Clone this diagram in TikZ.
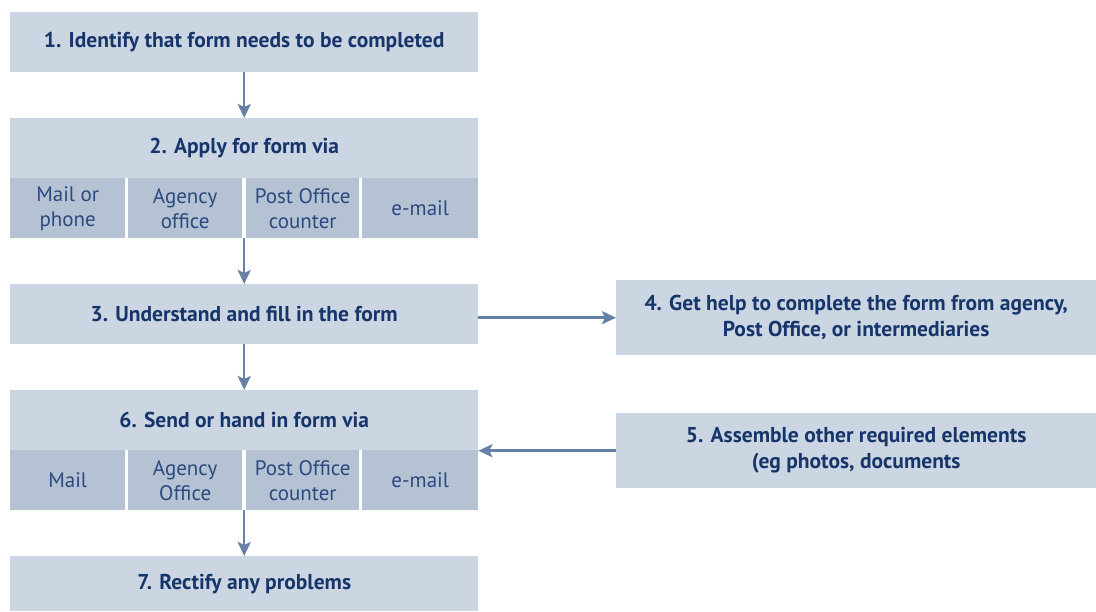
\documentclass[tikz,border=0pt]{standalone}
\usepackage{fontspec}
\setmainfont{PT Sans}
\usetikzlibrary{arrows.meta,calc}
\definecolor{boxfill}{HTML}{CCD6E2}
\definecolor{cellfill}{HTML}{B4C2D4}
\definecolor{txtdark}{HTML}{16356A}
\definecolor{txtcell}{HTML}{2A4A80}
\definecolor{arrowc}{HTML}{6681A6}
\begin{document}
\begin{tikzpicture}[x=1pt,y=-1pt,
  mainbox/.style={fill=boxfill, draw=none, anchor=north west, inner sep=0pt,
    minimum width=468pt, minimum height=60pt, text=txtdark, font=\fontsize{21.5}{26}\selectfont\bfseries, align=center},
  sidebox/.style={fill=boxfill, draw=none, anchor=north west, inner sep=0pt,
    minimum width=480pt, minimum height=75pt, text=txtdark, font=\fontsize{21.5}{26}\selectfont\bfseries, align=center},
  cellbox/.style={fill=cellfill, draw=none, anchor=north west, inner sep=0pt,
    minimum height=60pt, text=txtcell, font=\fontsize{21}{25}\selectfont, align=center},
  flow/.style={draw=arrowc, line width=2.5pt, -{Stealth[length=14pt,width=13pt,inset=3pt]}}
]
\useasboundingbox (0,0) rectangle (1096,611);

\node[mainbox] (b1) at (10,12) {1. Identify that form needs to be completed};

\node[mainbox] (b2) at (10,118) {2. Apply for form via};
\node[cellbox, minimum width=115pt] (b2a) at (10,178) {Mail or\\phone};
\node[cellbox, minimum width=114pt] (b2b) at (128,178) {Agency\\office};
\node[cellbox, minimum width=113pt] (b2c) at (246,178) {Post Office\\counter};
\node[cellbox, minimum width=116pt] (b2d) at (362,178) {e-mail};

\node[mainbox] (b3) at (10,284) {3. Understand and fill in the form};

\node[sidebox] (b4) at (616,280) {4. Get help to complete the form from agency,\\Post Office, or intermediaries};
\node[sidebox] (b5) at (616,413) {5. Assemble other required elements\\(eg photos, documents};

\node[mainbox] (b6) at (10,390) {6. Send or hand in form via};
\node[cellbox, minimum width=115pt] (b6a) at (10,450) {Mail};
\node[cellbox, minimum width=114pt] (b6b) at (128,450) {Agency\\Office};
\node[cellbox, minimum width=113pt] (b6c) at (246,450) {Post Office\\counter};
\node[cellbox, minimum width=116pt] (b6d) at (362,450) {e-mail};

\node[mainbox, minimum height=55pt] (b7) at (10,556) {7. Rectify any problems};

\draw[flow] (b1.south) -- (b2.north);
\draw[flow] (b2b.south east -| b3.north) -- (b3.north);
\draw[flow] (b3.south) -- (b6.north);
\draw[flow] (b6b.south east -| b7.north) -- (b7.north);
\draw[flow] (b3.east |- b4.west) -- (b4.west);
\draw[flow] (b5.west) -- (b5.west -| b6.east);
\end{tikzpicture}
\end{document}
